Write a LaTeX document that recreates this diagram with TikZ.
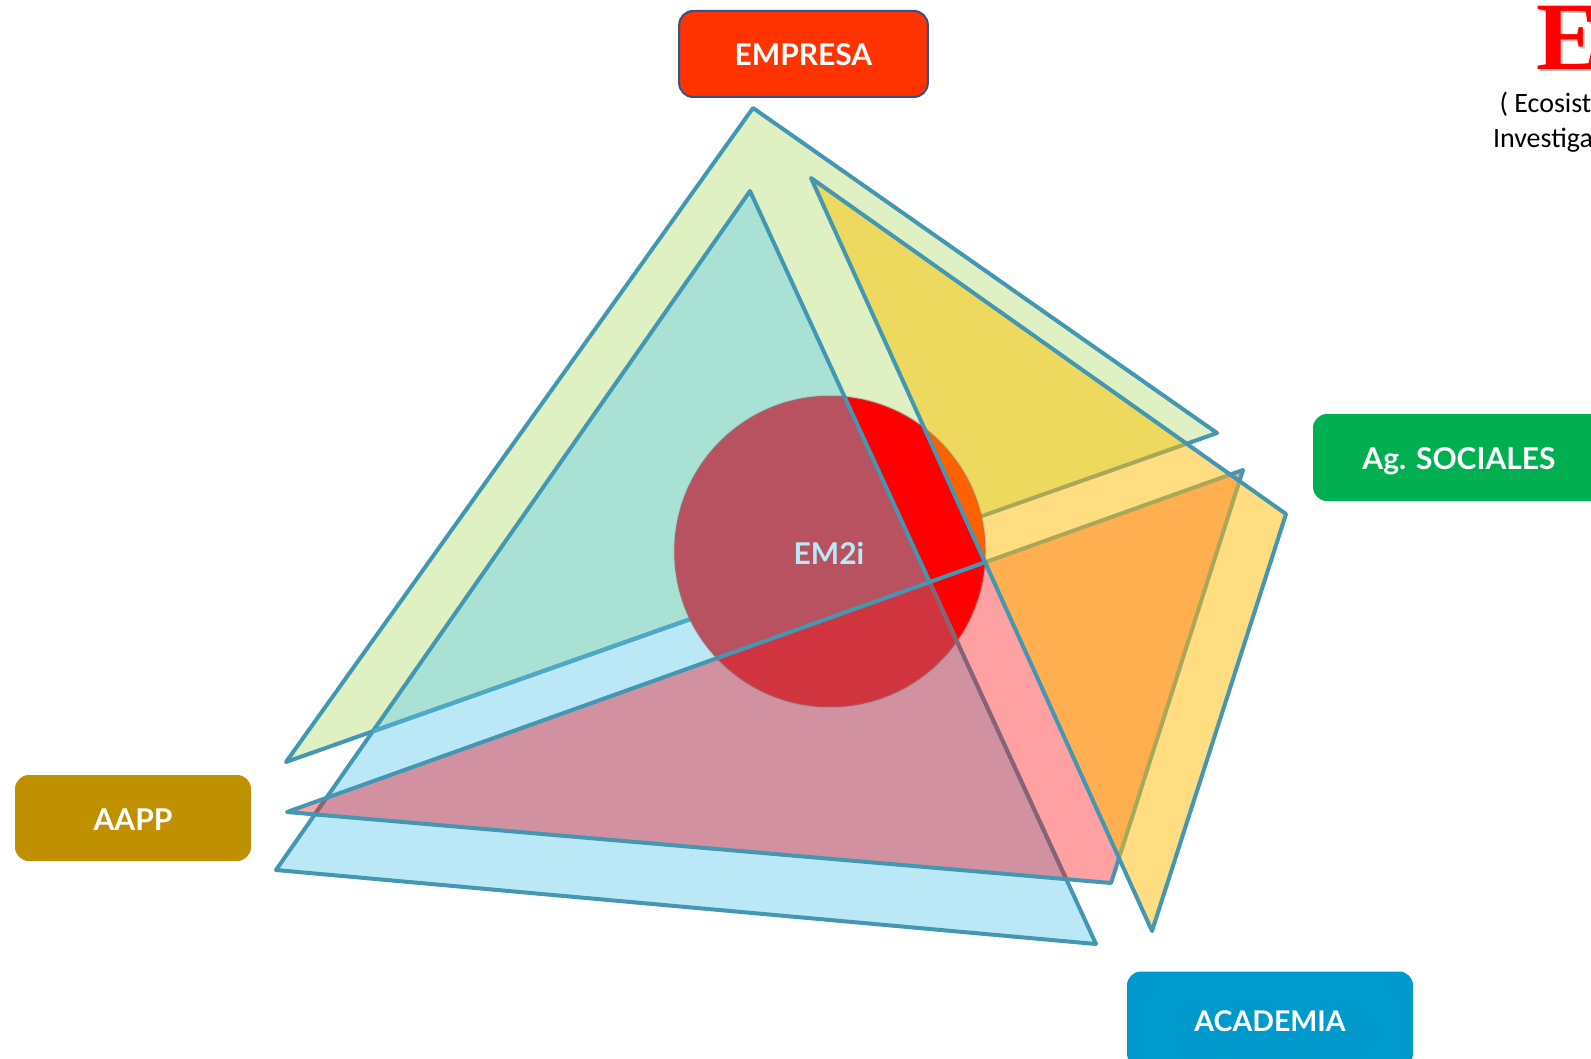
\documentclass[tikz,border=0pt]{standalone}
\usepackage{fontspec}
\setmainfont{Lato}
\newfontfamily\serifE{Liberation Serif}
\newfontfamily\calibri{Carlito}
\definecolor{edgeblue}{HTML}{4397B3}
\definecolor{edgelight}{HTML}{4BA9C9}
\definecolor{edgegrey}{HTML}{8B6273}
\definecolor{edgeolive}{HTML}{A9A85A}
\definecolor{empgreen}{HTML}{DFF0C2}
\definecolor{acablue}{HTML}{BBE8F7}
\definecolor{socyellow}{HTML}{FFDD80}
\definecolor{aappink}{HTML}{FFA0A3}
\definecolor{tealmix}{HTML}{A9E1D4}
\definecolor{mauvemix}{HTML}{D191A0}
\definecolor{olivemix}{HTML}{EDD95E}
\definecolor{orangemix}{HTML}{FFAE50}
\definecolor{circmauve}{HTML}{B85260}
\definecolor{circcrim}{HTML}{D0343F}
\definecolor{circorange}{HTML}{FF6000}
\tikzset{every picture/.style={line width=0.75pt},
	agent/.style={rounded corners=10.5pt,text=white,font=\bfseries\fontsize{22.5}{26}\selectfont,minimum height=64.5pt,align=center,inner sep=0pt,text height=18pt,text depth=0pt},
	tri/.style={line width=3pt,line join=round}}
\def\triEmp{(e1) -- (e2) -- (e3) -- cycle}
\def\triAca{(a1) -- (a2) -- (a3) -- cycle}
\def\triSoc{(s1) -- (s2) -- (s3) -- cycle}
\def\triApp{(p1) -- (p2) -- (p3) -- cycle}
\def\circEM{(830,551.5) circle (155.5)}
\begin{document}
\begin{tikzpicture}[x=0.75pt,y=0.75pt,yscale=-1,xscale=1]
	\useasboundingbox (0,0) rectangle (1591,1059);

	%Triangle corners
	\coordinate (e1) at (753,108);
	\coordinate (e2) at (1217,433);
	\coordinate (e3) at (286,762);
	\coordinate (a1) at (750,191);
	\coordinate (a2) at (1096,944);
	\coordinate (a3) at (276,870);
	\coordinate (s1) at (811,178);
	\coordinate (s2) at (1286,514);
	\coordinate (s3) at (1152,931);
	\coordinate (p1) at (1243,470);
	\coordinate (p2) at (1111,883);
	\coordinate (p3) at (287,812);

	%Back triangles
	\fill [empgreen] \triEmp;
	\fill [acablue] \triAca;
	\begin{scope}
		\clip \triEmp;
		\fill [tealmix] \triAca;
	\end{scope}
	\fill [aappink] \triApp;
	\begin{scope}
		\clip \triAca;
		\fill [mauvemix] \triApp;
	\end{scope}
	\draw [tri, edgeblue] \triEmp;
	\draw [tri, edgeblue] \triAca;
	\begin{scope}
		\clip \triAca;
		\draw [tri, edgelight] \triEmp;
	\end{scope}
	\begin{scope}
		\clip \triApp;
		\draw [tri, edgegrey] \triAca;
	\end{scope}
	\draw [tri, edgeblue] \triApp;

	%Circle
	\fill [red] \circEM;
	\begin{scope}
		\clip \circEM;
		\fill [circmauve] \triAca;
		\begin{scope}
			\clip \triApp;
			\fill [circcrim] \triAca;
		\end{scope}
		\draw [tri, edgeblue] \triAca;
		\begin{scope}
			\clip \triApp;
			\draw [tri, edgegrey] \triAca;
		\end{scope}
		\draw [tri, edgeblue] \triApp;
	\end{scope}

	%Front triangle
	\fill [socyellow] \triSoc;
	\begin{scope}
		\clip \triSoc;
		\fill [olivemix] \triEmp;
		\fill [orangemix] \triApp;
		\draw [tri, edgeolive] \triEmp;
		\draw [tri, edgeolive] \triApp;
		\fill [circorange] \circEM;
	\end{scope}
	\draw [tri, edgeblue] \triSoc;
	\draw [gray, opacity=0.3, line width=1.5pt] \circEM;

	% Text Node
	\node [text=acablue, font=\bfseries\fontsize{22.5}{26}\selectfont] (em2i) at (829,553) {EM2i};
	% Text Node
	\node [agent, fill={rgb, 255:red, 255; green, 51; blue, 0 }, draw={rgb, 255:red, 47; green, 82; blue, 143 }, line width=1.5pt, minimum width=186.5pt] (empresa) at (803.5,54) {EMPRESA};
	% Text Node
	\node [agent, fill={rgb, 255:red, 191; green, 144; blue, 0 }, minimum width=177pt] (aapp) at (133,818) {AAPP};
	% Text Node
	\node [agent, fill={rgb, 255:red, 0; green, 176; blue, 80 }, minimum width=219pt, minimum height=65.25pt] (sociales) at (1459,457.5) {Ag. SOCIALES};
	% Text Node
	\node [agent, fill={rgb, 255:red, 0; green, 153; blue, 204 }, minimum width=214.5pt, minimum height=72pt, font=\bfseries\fontsize{21.4}{26}\selectfont] (academia) at (1270,1019.5) {ACADEMIA};
	% Text Node
	\node [anchor=base west, inner sep=0pt, text=gray!45, font=\serifE\bfseries\fontsize{72.5}{80}\selectfont] (eshadow) at (1538,71.5) {E};
	\node [anchor=base west, inner sep=0pt, text=red, font=\serifE\bfseries\fontsize{72.5}{80}\selectfont] (bigE) at (1535.5,69.5) {E};
	% Text Node
	\node [anchor=base west, inner sep=0pt, font=\calibri\fontsize{21}{25}\selectfont] (ecosist) at (1499,113) {( Ecosist};
	% Text Node
	\node [anchor=base west, inner sep=0pt, font=\calibri\fontsize{21}{25}\selectfont] (investiga) at (1492.5,148) {Investiga};
\end{tikzpicture}
\end{document}
